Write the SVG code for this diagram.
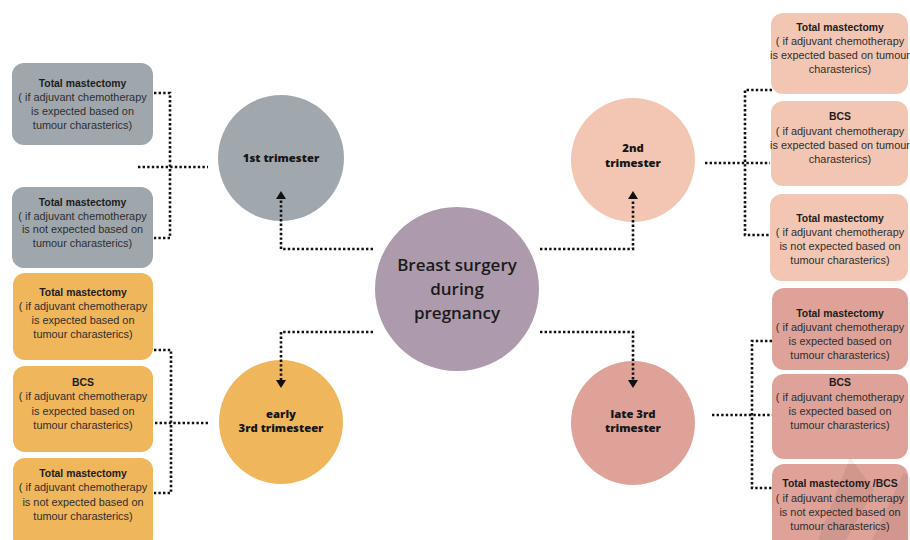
<svg xmlns="http://www.w3.org/2000/svg" width="910" height="540" viewBox="0 0 910 540">
  <style>
    .dot { fill: none; stroke: #111; stroke-width: 2.6; stroke-dasharray: 2.4 2.2; }
    .head { fill: #111; }
    .box-gray { fill: #a0a7ac; }
    .box-peach { fill: #f2c6b3; }
    .box-orange { fill: #efb65c; }
    .box-rose { fill: #dfa299; }
    .t { font-family: "Liberation Sans", Arial, sans-serif; text-anchor: middle; fill: #2e2e2e; font-size: 10.9px; }
    .tb { font-weight: bold; font-size: 10.4px; fill: #1c1c1c; }
    .c { font-family: "Open Sans", "Liberation Sans", sans-serif; font-weight: 800; text-anchor: middle; fill: #161616; font-size: 11.3px; }
    .main { font-family: "Open Sans", "Liberation Sans", sans-serif; font-weight: 600; text-anchor: middle; fill: #1a1a1a; font-size: 17px; }
  </style>

  <rect width="910" height="540" fill="#ffffff"/>

  <!-- centre topic -->
  <g id="center">
    <circle cx="457" cy="289" r="82" fill="#ae9aad"/>
    <text class="main" x="457" y="271">Breast surgery</text>
    <text class="main" x="457" y="295">during</text>
    <text class="main" x="457" y="319">pregnancy</text>
  </g>

  <!-- trimester nodes -->
  <g id="first-trimester">
    <circle cx="281" cy="158" r="63" fill="#a1a8ad"/>
    <text class="c" x="281" y="162">1st trimester</text>
  </g>
  <g id="second-trimester">
    <circle cx="633" cy="160" r="62" fill="#f2c6b3"/>
    <text class="c" x="633" y="152">2nd</text>
    <text class="c" x="633" y="167">trimester</text>
  </g>
  <g id="early-third-trimester">
    <circle cx="281" cy="422" r="62" fill="#efb65c"/>
    <text class="c" x="281" y="418">early</text>
    <text class="c" x="281" y="432">3rd trimesteer</text>
  </g>
  <g id="late-third-trimester">
    <circle cx="633" cy="423" r="62" fill="#dfa299"/>
    <text class="c" x="633" y="418">late 3rd</text>
    <text class="c" x="633" y="432">trimester</text>
  </g>

  <!-- 1st trimester options -->
  <g id="t1-total-expected">
    <rect class="box-gray" x="12" y="63" width="141" height="82" rx="12"/>
    <text class="t tb" x="82.5" y="86.5">Total mastectomy</text>
    <text class="t" x="82.5" y="101">( if adjuvant chemotherapy</text>
    <text class="t" x="82.5" y="115">is expected based on</text>
    <text class="t" x="82.5" y="128.5">tumour charasterics)</text>
  </g>
  <g id="t1-total-not-expected">
    <rect class="box-gray" x="12" y="187" width="141" height="81" rx="12"/>
    <text class="t tb" x="82.5" y="205.5">Total mastectomy</text>
    <text class="t" x="82.5" y="219.5">( if adjuvant chemotherapy</text>
    <text class="t" x="82.5" y="233">is not  expected based on</text>
    <text class="t" x="82.5" y="246.5">tumour charasterics)</text>
  </g>

  <!-- 2nd trimester options -->
  <g id="t2-total-expected">
    <rect class="box-peach" x="771" y="13" width="137" height="81" rx="12"/>
    <text class="t tb" x="840" y="30.5">Total mastectomy</text>
    <text class="t" x="840" y="45">( if adjuvant chemotherapy</text>
    <text class="t" x="840" y="59">is expected based on tumour</text>
    <text class="t" x="840" y="73">charasterics)</text>
  </g>
  <g id="t2-bcs-expected">
    <rect class="box-peach" x="771" y="101" width="137" height="85" rx="12"/>
    <text class="t tb" x="840" y="120">BCS</text>
    <text class="t" x="840" y="134.5">( if adjuvant chemotherapy</text>
    <text class="t" x="840" y="148.5">is expected based on tumour</text>
    <text class="t" x="840" y="162.5">charasterics)</text>
  </g>
  <g id="t2-total-not-expected">
    <rect class="box-peach" x="770" y="194" width="138" height="87" rx="12"/>
    <text class="t tb" x="840" y="221.5">Total mastectomy</text>
    <text class="t" x="840" y="236">( if adjuvant chemotherapy</text>
    <text class="t" x="840" y="250">is not expected based on</text>
    <text class="t" x="840" y="264">tumour charasterics)</text>
  </g>

  <!-- early 3rd trimester options -->
  <g id="e3-total-expected">
    <rect class="box-orange" x="13" y="273" width="140" height="87" rx="12"/>
    <text class="t tb" x="83" y="295.5">Total mastectomy</text>
    <text class="t" x="83" y="309.5">( if adjuvant chemotherapy</text>
    <text class="t" x="83" y="323.5">is expected based on</text>
    <text class="t" x="83" y="337.5">tumour charasterics)</text>
  </g>
  <g id="e3-bcs-expected">
    <rect class="box-orange" x="13" y="366" width="140" height="86" rx="12"/>
    <text class="t tb" x="83" y="385.5">BCS</text>
    <text class="t" x="83" y="400">( if adjuvant chemotherapy</text>
    <text class="t" x="83" y="414.5">is expected based on</text>
    <text class="t" x="83" y="428.5">tumour charasterics)</text>
  </g>
  <g id="e3-total-not-expected">
    <rect class="box-orange" x="13" y="458" width="140" height="92" rx="12"/>
    <text class="t tb" x="83" y="476.5">Total mastectomy</text>
    <text class="t" x="83" y="491">( if adjuvant chemotherapy</text>
    <text class="t" x="83" y="505.5">is not expected based on</text>
    <text class="t" x="83" y="520">tumour charasterics)</text>
  </g>

  <!-- late 3rd trimester options -->
  <g id="l3-total-expected">
    <rect class="box-rose" x="772" y="288" width="136" height="82" rx="12"/>
    <text class="t tb" x="840" y="316.5">Total mastectomy</text>
    <text class="t" x="840" y="331">( if adjuvant chemotherapy</text>
    <text class="t" x="840" y="345">is expected based on</text>
    <text class="t" x="840" y="359">tumour charasterics)</text>
  </g>
  <g id="l3-bcs-expected">
    <rect class="box-rose" x="772" y="374" width="136" height="85" rx="12"/>
    <text class="t tb" x="840" y="385.5">BCS</text>
    <text class="t" x="840" y="400.5">( if adjuvant chemotherapy</text>
    <text class="t" x="840" y="415">is expected based on</text>
    <text class="t" x="840" y="429">tumour charasterics)</text>
  </g>
  <g id="l3-total-bcs-not-expected">
    <rect class="box-rose" x="772" y="464" width="136" height="86" rx="12"/>
    <text class="t tb" x="840" y="486.5">Total mastectomy /BCS</text>
    <text class="t" x="840" y="501.5">( if adjuvant chemotherapy</text>
    <text class="t" x="840" y="515.5">is not expected based on</text>
    <text class="t" x="840" y="529.5">tumour charasterics)</text>
  </g>

  <!-- faint stamp in the lower right corner -->
  <g id="stamp" fill="#000" opacity="0.06">
    <polygon points="850,457 874,490 846,540 818,540"/>
    <polygon points="904,472 910,478 910,540 872,540"/>
  </g>

  <!-- connectors -->
  <g id="connectors">
    <path class="dot" d="M373,249 H281 V200"/>
    <path class="dot" d="M540,249 H633 V200"/>
    <path class="dot" d="M373,332 H281 V380"/>
    <path class="dot" d="M540,332 H633 V380"/>
    <polygon class="head" points="281,191 286,199 276,199"/>
    <polygon class="head" points="633,191 638,199 628,199"/>
    <polygon class="head" points="281,388 286,380 276,380"/>
    <polygon class="head" points="633,388 638,380 628,380"/>

    <path class="dot" d="M154,93 H170 V238 H154"/>
    <path class="dot" d="M138,167 H208"/>

    <path class="dot" d="M154,350 H171 V493 H154"/>
    <path class="dot" d="M155,423 H208"/>

    <path class="dot" d="M772,90 H745 V235 H770"/>
    <path class="dot" d="M705,163 H770"/>

    <path class="dot" d="M772,341 H752 V488 H772"/>
    <path class="dot" d="M712,415 H772"/>
  </g>
</svg>
